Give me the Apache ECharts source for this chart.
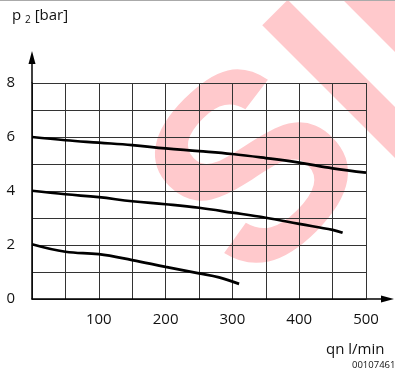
<!DOCTYPE html>
<html>
  <head>
    <meta charset="utf-8" />
    <title>p2 qn</title>
    <script src="https://cdn.jsdelivr.net/npm/echarts@6/dist/echarts.min.js"></script>
    <style>
      html, body { margin: 0; padding: 0; background: #fff; }
      #main { width: 395px; height: 375px; }
    </style>
  </head>
  <body>
    <div id="main"></div>
  </body>

  <script type="text/javascript">
    // flow qn [l/min] sampled every 50
    var flowTop = [0, 50, 100, 150, 200, 250, 300, 350, 400, 450, 500];
    var pressTop = [6.0, 5.88, 5.79, 5.7, 5.58, 5.48, 5.37, 5.22, 5.05, 4.84, 4.68];

    var flowMid = [0, 50, 100, 150, 200, 250, 300, 350, 400, 450, 465];
    var pressMid = [4.01, 3.88, 3.77, 3.62, 3.51, 3.38, 3.2, 3.01, 2.78, 2.56, 2.45];

    var flowLow = [0, 50, 100, 150, 200, 250, 280, 310];
    var pressLow = [2.03, 1.75, 1.66, 1.44, 1.19, 0.95, 0.8, 0.56];

    var xTicks = [100, 200, 300, 400, 500];
    var yTicks = [0, 2, 4, 6, 8];

    function pairs(xs, ys) {
      var out = [];
      for (var i = 0; i < xs.length; i++) out.push([xs[i], ys[i]]);
      return out;
    }

    var chart = echarts.init(document.getElementById("main"));
    var font = "Open Sans";
    var pink = "#ffc9cc";

    var curve = function (xs, ys) {
      return {
        type: "line",
        data: pairs(xs, ys),
        smooth: 0.4,
        showSymbol: false,
        lineStyle: { color: "#000", width: 2.7 },
        z: 5,
      };
    };

    option = {
      animation: false,
      grid: { left: 32, right: 29, top: 83, bottom: 76 },
      xAxis: {
        type: "value",
        min: 0,
        max: 500,
        interval: 50,
        axisLine: { show: true, lineStyle: { color: "#000", width: 1.5 } },
        axisTick: { show: false },
        splitLine: { show: true, lineStyle: { color: "#333", width: 1 } },
        axisLabel: {
          margin: 13,
          color: "#111",
          fontFamily: font,
          fontSize: 15,
          formatter: function (v) {
            return xTicks.indexOf(v) >= 0 ? String(v) : "";
          },
        },
      },
      yAxis: {
        type: "value",
        min: 0,
        max: 8,
        interval: 1,
        axisLine: { show: true, lineStyle: { color: "#000", width: 1.5 } },
        axisTick: { show: false },
        splitLine: { show: true, lineStyle: { color: "#333", width: 1 } },
        axisLabel: {
          margin: 17,
          color: "#111",
          fontFamily: font,
          fontSize: 15,
          formatter: function (v) {
            return yTicks.indexOf(v) >= 0 ? String(v) : "";
          },
        },
      },
      graphic: [
        // watermark
        {
          type: "text",
          z: -10,
          x: 263,
          y: 178,
          rotation: Math.PI / 4,
          style: {
            text: "S",
            fill: pink,
            font: "bold 264px Liberation Sans",
            textAlign: "center",
            textVerticalAlign: "middle",
          },
        },
        {
          type: "rect",
          z: -10,
          x: 275,
          y: 12.5,
          rotation: Math.PI / 4,
          shape: { x: -18, y: 0, width: 36, height: 300 },
          style: { fill: pink },
        },
        {
          type: "rect",
          z: -10,
          x: 275,
          y: 12.5,
          rotation: Math.PI / 4,
          shape: { x: 57, y: -100, width: 40, height: 400 },
          style: { fill: pink },
        },
        // top border line
        {
          type: "line",
          shape: { x1: 0, y1: 0.5, x2: 395, y2: 0.5 },
          style: { stroke: "#aaa", lineWidth: 1 },
        },
        // axis arrows
        {
          type: "line",
          shape: { x1: 32, y1: 83, x2: 32, y2: 60 },
          style: { stroke: "#000", lineWidth: 1.5 },
        },
        {
          type: "polygon",
          shape: { points: [[32, 51], [28.5, 64], [35.5, 64]] },
          style: { fill: "#000" },
        },
        {
          type: "line",
          shape: { x1: 366, y1: 299, x2: 386, y2: 299 },
          style: { stroke: "#000", lineWidth: 1.5 },
        },
        {
          type: "polygon",
          shape: { points: [[394, 299], [381, 295.5], [381, 302.5]] },
          style: { fill: "#000" },
        },
        // titles
        {
          type: "text",
          x: 12,
          y: 7,
          style: {
            rich: {
              a: { fontFamily: font, fontSize: 15, fill: "#111" },
              b: { fontFamily: font, fontSize: 10, fill: "#111", padding: [8, 0, 0, 0] },
            },
            text: "{a|p }{b|2}{a| [bar]}",
          },
        },
        {
          type: "text",
          x: 326,
          y: 342,
          style: { text: "qn l/min", fontFamily: font, fontSize: 15, fill: "#111" },
        },
        {
          type: "text",
          x: 352,
          y: 360,
          style: { text: "00107461", fontFamily: font, fontSize: 9.5, fill: "#111" },
        },
      ],
      series: [
        curve(flowTop, pressTop),
        curve(flowMid, pressMid),
        curve(flowLow, pressLow),
      ],
    };

    chart.setOption(option);
  </script>
</html>
